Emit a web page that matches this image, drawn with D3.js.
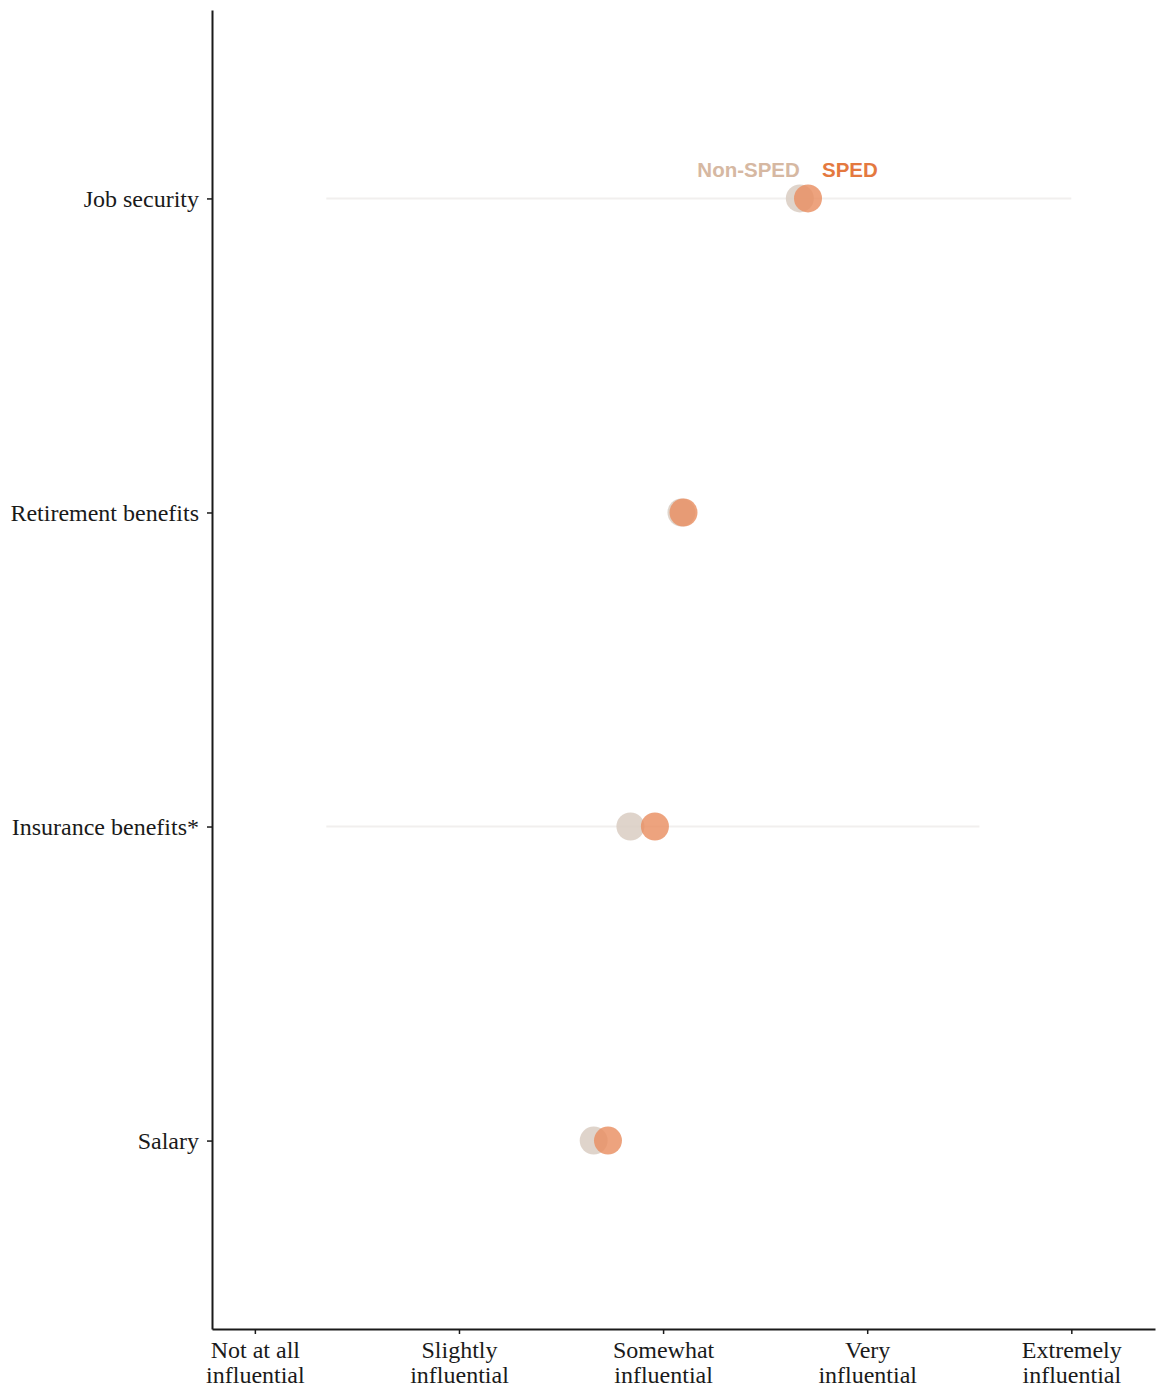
<!DOCTYPE html>
<html><head><meta charset="utf-8">
<script src="https://cdn.jsdelivr.net/npm/d3@7"></script>
<style>body{margin:0;background:#fff;}svg{display:block;}</style>
</head><body>
<svg id="chart" width="1156" height="1393"></svg>
<script>
const categories = ["Job security","Retirement benefits","Insurance benefits*","Salary"];
const xTickValues = [1,2,3,4,5];
const xTickLabels = [["Not at all","influential"],["Slightly","influential"],["Somewhat","influential"],["Very","influential"],["Extremely","influential"]];
const nonSped = [3.67, 3.09, 2.84, 2.66];
const sped = [3.71, 3.10, 2.96, 2.73];
const rangeLow = [1.35, null, 1.35, null];
const rangeHigh = [5.0, null, 4.55, null];

const svg = d3.select("#chart");
const x = d3.scaleLinear().domain([0.79, 5.41]).range([212, 1155]);
const y = d3.scalePoint().domain(categories).range([10, 1329]).padding(0.6);

// faint range lines
svg.append("g").selectAll("line").data(categories.filter((c,i)=>rangeLow[i]!==null)).join("line")
  .attr("x1", c => x(rangeLow[categories.indexOf(c)]))
  .attr("x2", c => x(rangeHigh[categories.indexOf(c)]))
  .attr("y1", c => y(c)).attr("y2", c => y(c))
  .attr("stroke", "#f1efee").attr("stroke-width", 2);

// points
svg.append("g").selectAll("circle").data(categories).join("circle")
  .attr("cx", (c,i) => x(nonSped[i])).attr("cy", c => y(c)).attr("r", 14)
  .attr("fill", "#d9cdc2").attr("fill-opacity", 0.85);
svg.append("g").selectAll("circle").data(categories).join("circle")
  .attr("cx", (c,i) => x(sped[i])).attr("cy", c => y(c)).attr("r", 14)
  .attr("fill", "#e98f62").attr("fill-opacity", 0.82);

// legend
svg.append("text").attr("x", x(nonSped[0])).attr("y", y(categories[0]) - 21)
  .attr("text-anchor","end").attr("font-family","Liberation Sans, Arial, sans-serif")
  .attr("font-weight","bold").attr("font-size", 20.5).attr("fill","#d6b8a2").text("Non-SPED");
svg.append("text").attr("x", x(sped[0]) + 14).attr("y", y(categories[0]) - 21)
  .attr("text-anchor","start").attr("font-family","Liberation Sans, Arial, sans-serif")
  .attr("font-weight","bold").attr("font-size", 20.5).attr("fill","#e4793f").text("SPED");

// axes
const serif = "Liberation Serif, Times New Roman, serif";
const xAxis = svg.append("g").attr("transform","translate(0,1329)")
  .call(d3.axisBottom(x).tickValues(xTickValues).tickSize(5).tickSizeOuter(0).tickFormat(""));
xAxis.select(".domain").attr("stroke","#1a1a1a").attr("stroke-width",2);
xAxis.selectAll(".tick line").attr("stroke","#1a1a1a").attr("stroke-width",1.5);
xAxis.selectAll(".tick").each(function(d,i){
  const t = d3.select(this).append("text").attr("fill","#1a1a1a").attr("font-family",serif)
    .attr("font-size",24).attr("text-anchor","middle");
  t.append("tspan").attr("x",0).attr("y",29).text(xTickLabels[i][0]);
  t.append("tspan").attr("x",0).attr("y",54).text(xTickLabels[i][1]);
});

const yAxis = svg.append("g").attr("transform","translate(212,0)")
  .call(d3.axisLeft(y).tickSize(5).tickSizeOuter(0).tickPadding(8));
yAxis.select(".domain").attr("stroke","#1a1a1a").attr("stroke-width",2);
yAxis.selectAll(".tick line").attr("stroke","#1a1a1a").attr("stroke-width",1.5);
yAxis.selectAll(".tick text").attr("fill","#1a1a1a").attr("font-family",serif).attr("font-size",24);
</script>
</body></html>
